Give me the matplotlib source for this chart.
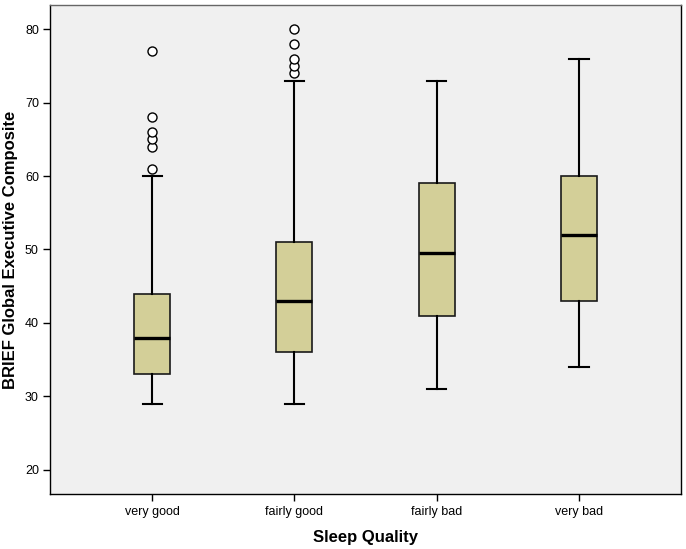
import matplotlib
matplotlib.use("Agg")
import matplotlib.pyplot as plt

plt.rcParams['font.family'] = ['Liberation Sans', 'DejaVu Sans']

categories = ["very good", "fairly good", "fairly bad", "very bad"]
whisker_low = [29, 29, 31, 34]
q1 = [33, 36, 41, 43]
median = [38, 43, 49.5, 52]
q3 = [44, 51, 59, 60]
whisker_high = [60, 73, 73, 76]
outliers = [
    [61, 64, 65, 66, 68, 77],
    [74, 75, 76, 78, 80],
    [],
    [],
]
yticks = [20, 30, 40, 50, 60, 70, 80]

stats = []
for i, c in enumerate(categories):
    stats.append(dict(label=c, whislo=whisker_low[i], q1=q1[i], med=median[i],
                      q3=q3[i], whishi=whisker_high[i], fliers=outliers[i]))

fig = plt.figure(figsize=(6.86, 5.49), dpi=100)
ax = fig.add_axes([50/686, 1-494/549, 631/686, 489/549])
ax.set_facecolor('#F0F0F0')

ax.bxp(stats, positions=[1, 2, 3, 4], widths=0.253, patch_artist=True,
       boxprops=dict(facecolor='#D3CF98', edgecolor='#1a1a1a', linewidth=1.2),
       medianprops=dict(color='black', linewidth=2.4),
       whiskerprops=dict(color='black', linewidth=1.5),
       capprops=dict(color='black', linewidth=1.5),
       capwidths=0.135,
       flierprops=dict(marker='o', markersize=6.5, markerfacecolor='white',
                       markeredgecolor='black', markeredgewidth=1.0, linestyle='none'))

ax.set_xlim(0.282, 4.717)
ax.set_ylim(16.7, 83.3)
ax.set_yticks(yticks)
ax.set_yticklabels([str(t) for t in yticks])
ax.set_xticks([1, 2, 3, 4])
ax.set_xticklabels(categories)
ax.tick_params(axis='both', direction='out', length=5, width=1, labelsize=9, color='black')
ax.tick_params(axis='x', pad=4)
ax.tick_params(axis='y', pad=3)

for s in ax.spines.values():
    s.set_color('black')
    s.set_linewidth(1.0)
ax.spines['top'].set_color('#666666')

ax.set_xlabel('Sleep Quality', fontsize=12, fontweight='bold', labelpad=8)
ax.set_ylabel('BRIEF Global Executive Composite', fontsize=12, fontweight='bold', labelpad=5)

fig.savefig('out.png', dpi=100)
